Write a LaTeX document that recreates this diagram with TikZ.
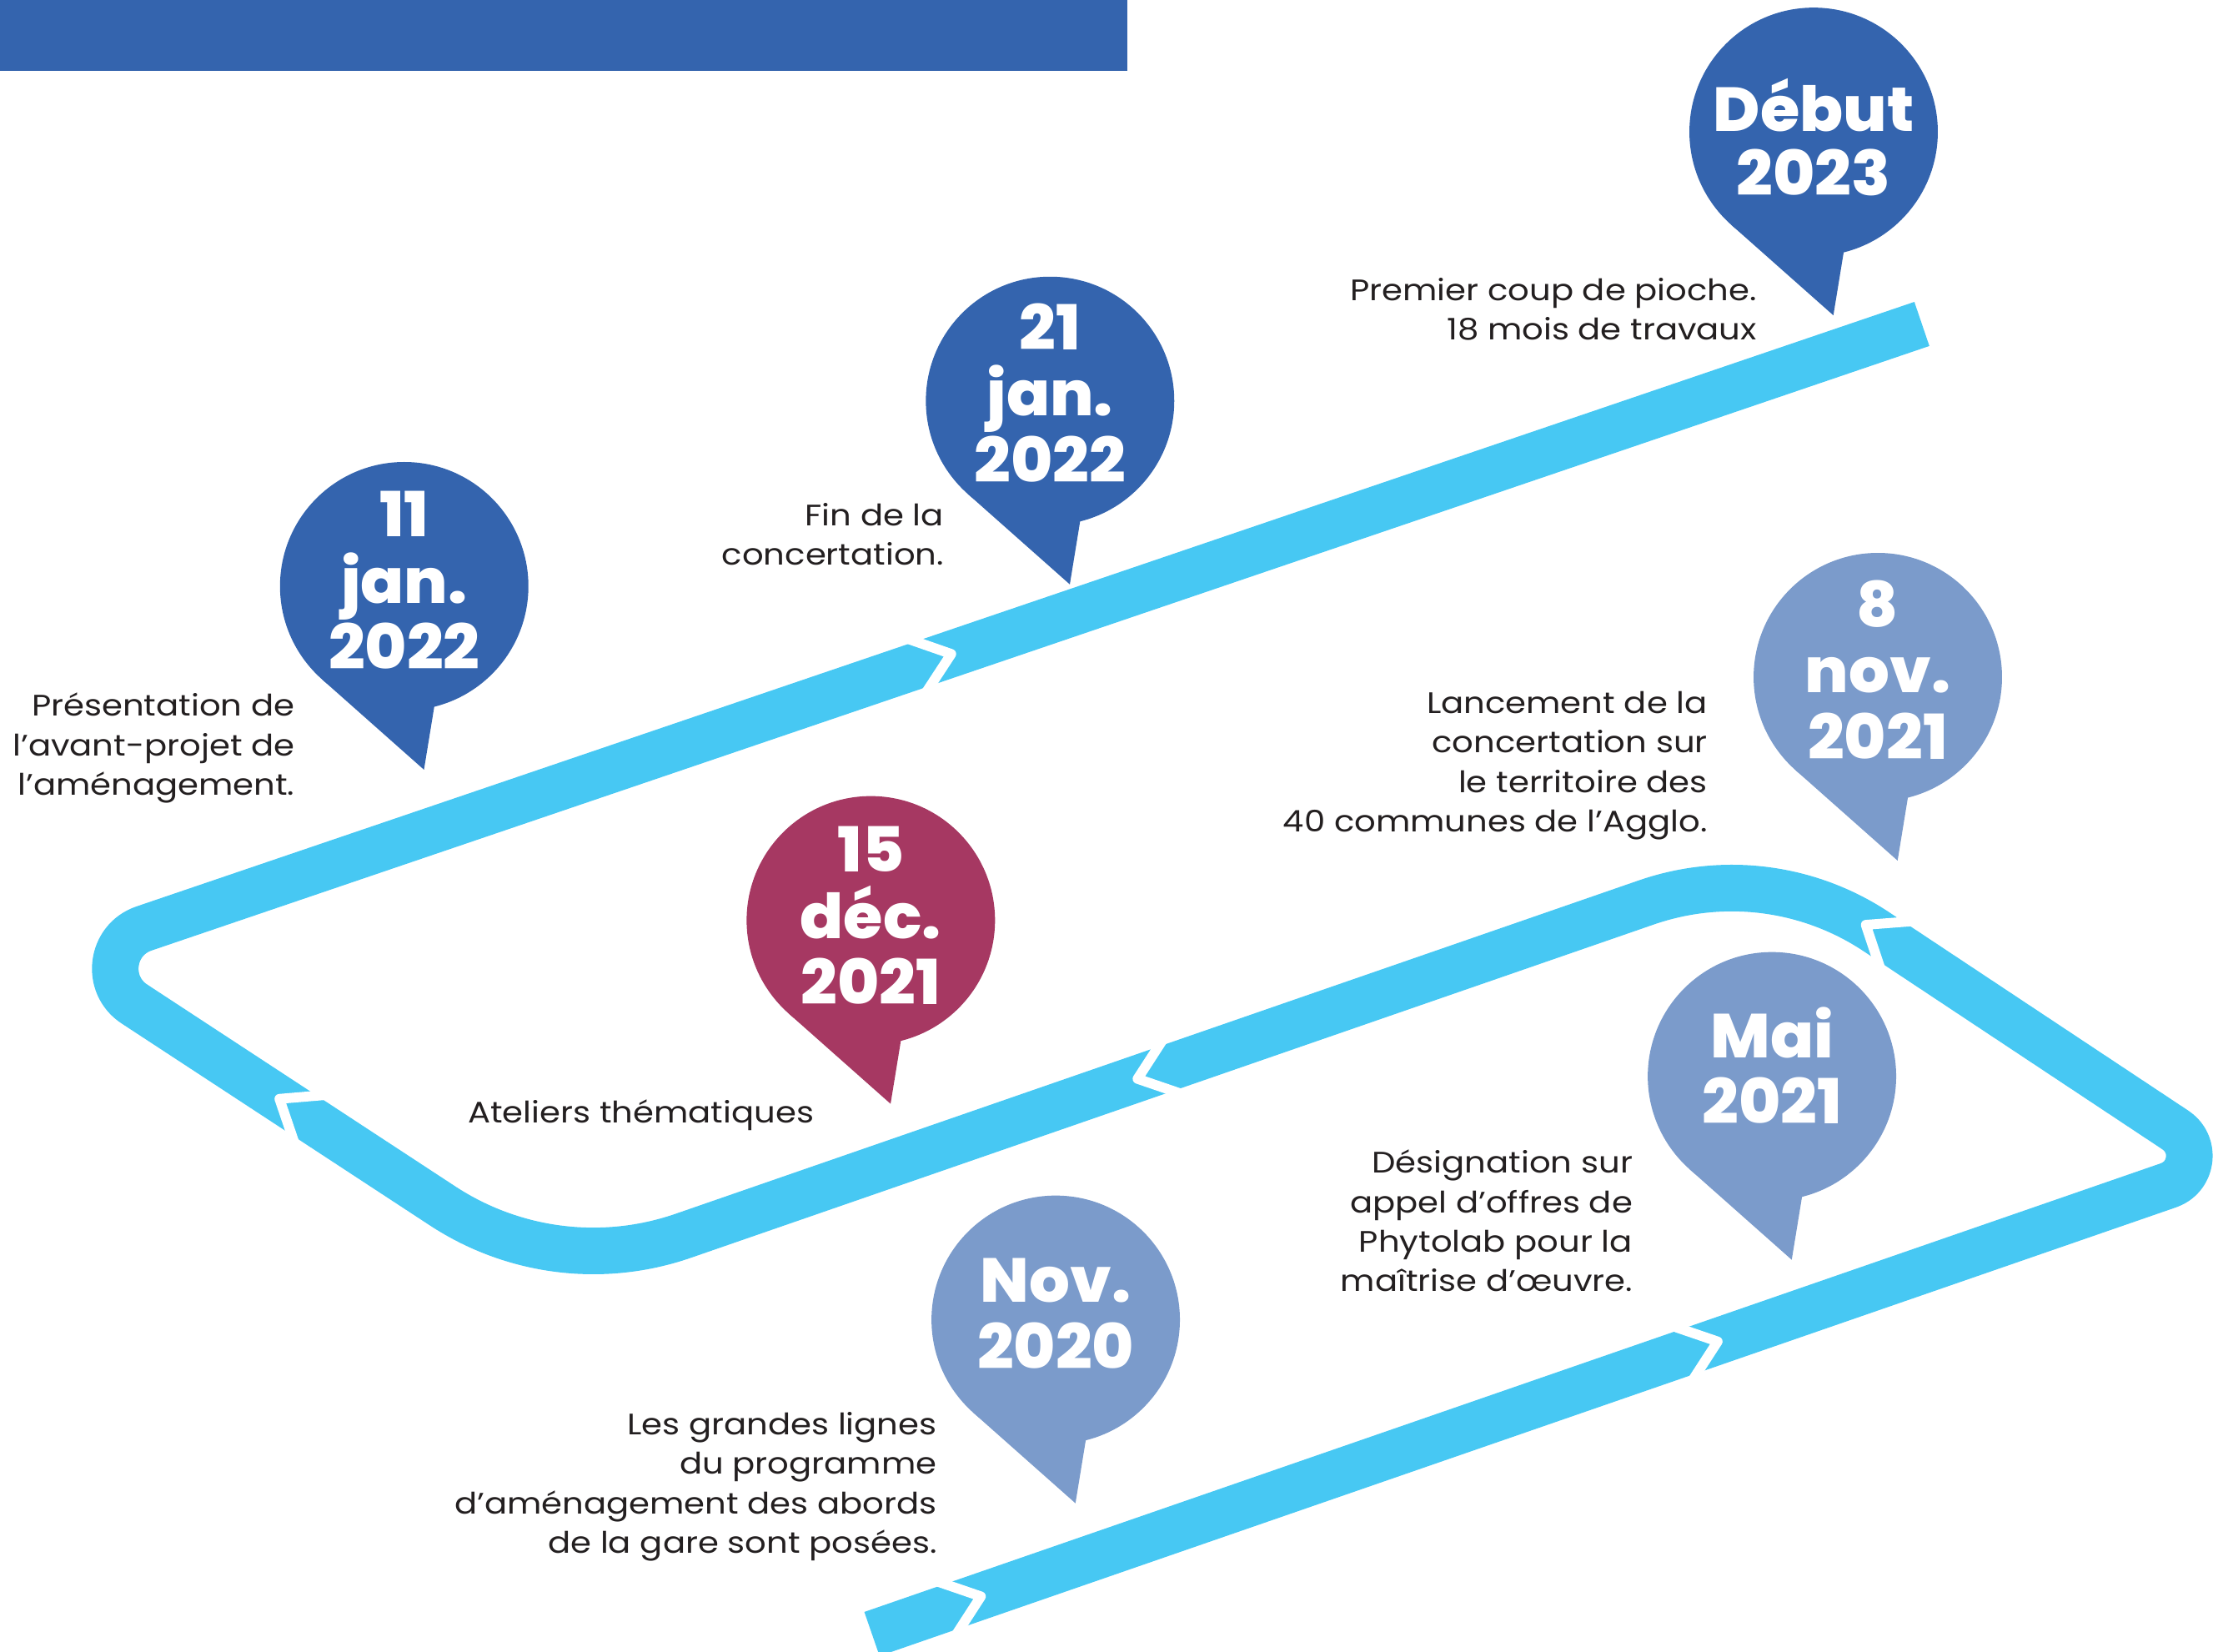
\documentclass[tikz,border=0pt]{standalone}
\usepackage{fontspec}
\setmainfont{Poppins}
\newfontfamily\descfont{Poppins}[FakeStretch=1.13]
\newfontfamily\datefont{Poppins}[UprightFont=* ExtraBold, FakeStretch=1.03]
\usetikzlibrary{calc}
\definecolor{bandc}{RGB}{71,200,243}
\definecolor{dblue}{RGB}{52,100,174}
\definecolor{lblue}{RGB}{123,155,203}
\definecolor{crimson}{RGB}{166,56,98}
\definecolor{txt}{RGB}{35,31,32}
\tikzset{
  band/.style={line width=33pt, draw=bandc, line cap=butt, line join=round},
  chevstroke/.style={draw=white, line width=7pt, line join=round, line cap=butt},
  chev/.pic={\draw[chevstroke] (-25.6pt,20pt) -- (0pt,0pt) -- (-25.6pt,-20pt);},
  pinnode/.style={circle, minimum size=176pt, inner sep=0pt, outer sep=0pt},
  datetext/.style={text=white, align=center, inner sep=0pt, anchor=north,
    font=\datefont\fontsize{44}{47}\selectfont},
  desc/.style={text=txt, align=right, inner sep=0pt, anchor=north east,
    font=\descfont\fontsize{21}{28}\selectfont},
}
\newcommand\mypin[3]{%
  \coordinate (#1c) at (#2);
  \fill[#3] ($(#1c)+(-76:88pt)$) -- ($(#1c)+(14pt,-130pt)$) -- ($(#1c)+(228.5:88pt)$) -- (#1c) -- cycle;
  \node[pinnode, fill=#3] (#1) at (#1c) {};
}
\begin{document}
\begin{tikzpicture}[x=1pt,y=-1pt]
\useasboundingbox (0,0) rectangle (1568,1169.8);
% top bar
\fill[dblue] (0,0) rectangle (799,50);
% band
\coordinate (S) at (617.8,1157.6);
\coordinate (V1) at (1578.5,825.2);
\coordinate (V2) at (1253,609.4);
\coordinate (V3) at (393.7,906.8);
\coordinate (V4) at (43.8,677.6);
\coordinate (E) at (1361.7,229.5);
\draw[band] (S) -- ($(V1)!44.5pt!(S)$) .. controls ($(V1)!26.3pt!(S)$) and ($(V1)!26.3pt!(V2)$) .. ($(V1)!44.5pt!(V2)$)
 -- ($(V2)!91.6pt!(V1)$) .. controls ($(V2)!33.8pt!(V1)$) and ($(V2)!33.8pt!(V3)$) .. ($(V2)!91.6pt!(V3)$)
 -- ($(V3)!95.7pt!(V2)$) .. controls ($(V3)!35.3pt!(V2)$) and ($(V3)!35.3pt!(V4)$) .. ($(V3)!95.7pt!(V4)$)
 -- ($(V4)!61.5pt!(V3)$) .. controls ($(V4)!36.5pt!(V3)$) and ($(V4)!36.5pt!(E)$) .. ($(V4)!61.5pt!(E)$)
 -- (E);
% chevrons
\pic[rotate=19.1] at (695,1131) {chev};
\pic[rotate=19.1] at (1217,950.4) {chev};
\pic[rotate=146.4] at (1322,655.2) {chev};
\pic[rotate=199.1] at (806,764.3) {chev};
\pic[rotate=146.8] at (198,778.5) {chev};
\pic[rotate=18.8] at (674,463.3) {chev};
% pins
\mypin{pA}{1285,93.4}{dblue}
\mypin{pB}{744,284}{dblue}
\mypin{pC}{286.4,415.3}{dblue}
\mypin{pD}{617,652}{crimson}
\mypin{pE}{1330.5,479.7}{lblue}
\mypin{pF}{1255.5,762.5}{lblue}
\mypin{pG}{748,935}{lblue}
% date texts
\node[datetext, font=\datefont\fontsize{44}{45.5}\selectfont] (tA) at (1285,52.6) {\rule{0pt}{40pt}Début\\2023};
\node[datetext] (tB) at (744,207.5) {\rule{0pt}{40pt}21\\jan.\\2022};
\node[datetext] (tC) at (286.4,340) {\rule{0pt}{40pt}11\\jan.\\2022};
\node[datetext] (tD) at (617,577.5) {\rule{0pt}{40pt}15\\déc.\\2021};
\node[datetext] (tE) at (1330.5,403.5) {\rule{0pt}{40pt}8\\nov.\\2021};
\node[datetext] (tF) at (1255.5,709) {\rule{0pt}{40pt}Mai\\2021};
\node[datetext] (tG) at (748,882.6) {\rule{0pt}{40pt}Nov.\\2020};
% descriptions
\node[desc] (dA) at (1245,192.7) {\rule{0pt}{20pt}Premier coup de pioche.\\18 mois de travaux};
\node[desc] (dB) at (669,352.2) {\rule{0pt}{20pt}Fin de la\\concertation.};
\node[desc] (dC) at (209,487.1) {\rule{0pt}{20pt}Présentation de\\l’avant-projet de\\l’aménagement.};
\node[desc, anchor=base west, align=left] (dD) at (331.4,795.8) {Ateliers thématiques};
\node[desc] (dE) at (1210,485.1) {\rule{0pt}{20pt}Lancement de la\\concertation sur\\le territoire des\\40 communes de l’Agglo.};
\node[desc] (dF) at (1157,810.9) {\rule{0pt}{20pt}Désignation sur\\appel d’offres de\\Phytolab pour la\\maîtrise d’œuvre.};
\node[desc] (dG) at (664,996.2) {\rule{0pt}{20pt}Les grandes lignes\\du programme\\d’aménagement des abords\\de la gare sont posées.};
\end{tikzpicture}
\end{document}
